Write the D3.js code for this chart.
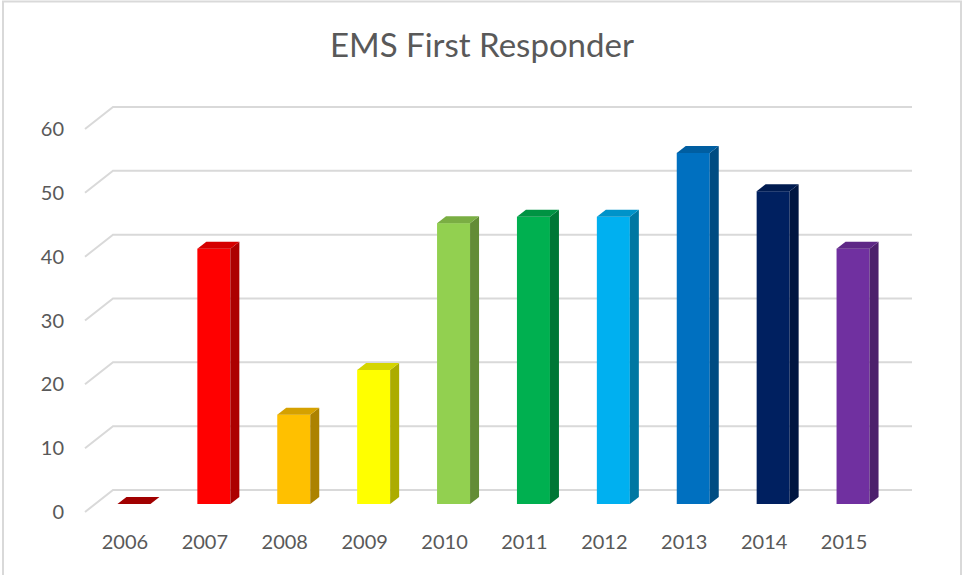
<!DOCTYPE html>
<html>
<head>
<meta charset="utf-8">
<script src="https://cdn.jsdelivr.net/npm/d3@7"></script>
<style>
  body { margin: 0; background: #fff; }
  text { font-family: Lato, "Open Sans", sans-serif; fill: #595959; }
</style>
</head>
<body>
<svg id="chart" width="963" height="575"></svg>
<script>
var years = ["2006","2007","2008","2009","2010","2011","2012","2013","2014","2015"];
var values = [0, 40, 14, 21, 44, 45, 45, 55, 49, 40];
var colors = ["#C00000","#FF0000","#FFC000","#FFFF00","#92D050","#00B050","#00B0F0","#0070C0","#002060","#7030A0"];
var yTicks = [0, 10, 20, 30, 40, 50, 60];

var svg = d3.select("#chart");

// chart frame
svg.append("rect")
    .attr("x", 3).attr("y", 1.5)
    .attr("width", 958).attr("height", 580)
    .attr("fill", "none")
    .attr("stroke", "#d9d9d9")
    .attr("stroke-width", 2);

svg.append("text")
    .attr("x", 482).attr("y", 57)
    .attr("text-anchor", "middle")
    .style("font-size", "33px")
    .text("EMS First Responder");

// back wall scales
var y = d3.scaleLinear().domain([0, 60]).range([490, 107]);
var x = d3.scaleBand().domain(years).range([113, 912]);

// depth: floor front is left/down of back wall
var depth = {dx: 28, dy: 22};
var barOff = {dx: -19, dy: 14};   // bar front face relative to back wall
var barDepth = {dx: 9, dy: -7};
var bw = 33;

// gridlines
var grid = svg.append("g");
yTicks.forEach(function(t) {
  grid.append("polyline")
      .attr("points", [[85, y(t) + depth.dy], [113, y(t)], [912, y(t)]].join(" "))
      .attr("fill", "none")
      .attr("stroke", "#d9d9d9")
      .attr("stroke-width", 2);
});

// y labels
svg.append("g").selectAll("text")
    .data(yTicks)
    .enter().append("text")
    .attr("x", 64)
    .attr("y", function(d) { return y(d) + depth.dy; })
    .attr("dy", "0.35em")
    .attr("text-anchor", "end")
    .style("font-size", "20px")
    .text(function(d) { return d; });

// x labels
svg.append("g").selectAll("text")
    .data(years)
    .enter().append("text")
    .attr("x", function(d) { return x(d) + x.bandwidth() / 2 - depth.dx; })
    .attr("y", 549)
    .attr("text-anchor", "middle")
    .style("font-size", "20px")
    .text(function(d) { return d; });

// 3d bars
var bars = svg.append("g").selectAll("g")
    .data(years.map(function(d, i) { return {year: d, value: values[i], color: colors[i]}; }))
    .enter().append("g");

function geom(d) {
  var x0 = x(d.year) + x.bandwidth() / 2 + barOff.dx - bw / 2;
  var yt = y(d.value) + barOff.dy;
  var yb = y(0) + barOff.dy;
  return {x0: x0, x1: x0 + bw, yt: yt, yb: yb};
}

bars.append("rect")
    .attr("x", function(d) { return geom(d).x0; })
    .attr("y", function(d) { return geom(d).yt; })
    .attr("width", bw)
    .attr("height", function(d) { var g = geom(d); return g.yb - g.yt; })
    .attr("fill", function(d) { return d.color; });

bars.append("polygon")
    .attr("points", function(d) {
      var g = geom(d);
      return [[g.x1, g.yt], [g.x1 + barDepth.dx, g.yt + barDepth.dy],
              [g.x1 + barDepth.dx, g.yb + barDepth.dy], [g.x1, g.yb]].join(" ");
    })
    .attr("fill", function(d) { return d3.color(d.color).darker(1.1); });

bars.append("polygon")
    .attr("points", function(d) {
      var g = geom(d);
      return [[g.x0, g.yt], [g.x1, g.yt], [g.x1 + barDepth.dx, g.yt + barDepth.dy],
              [g.x0 + barDepth.dx, g.yt + barDepth.dy]].join(" ");
    })
    .attr("fill", function(d) { return d3.color(d.color).darker(0.5); });
</script>
</body>
</html>
